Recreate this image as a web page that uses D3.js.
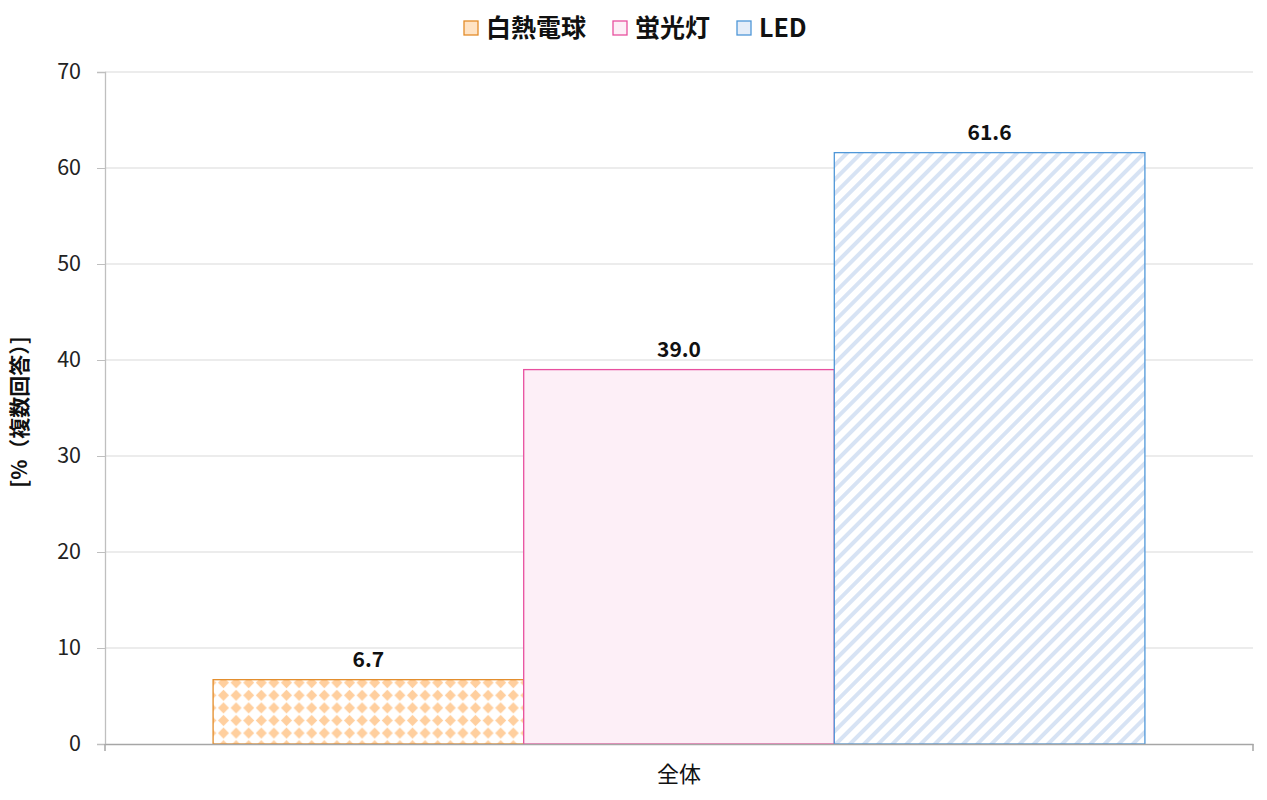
<!DOCTYPE html>
<html>
<head>
<meta charset="utf-8">
<script src="https://cdn.jsdelivr.net/npm/d3@7"></script>
<style>
  body { margin: 0; background: #fff; }
  text { font-family: "Noto Sans CJK JP", "Noto Sans", sans-serif; }
</style>
</head>
<body>
<div id="chart"></div>
<script>
// Data
var categories = ["全体"];
var seriesNames = ["白熱電球", "蛍光灯", "LED"];
var seriesValues = [6.7, 39.0, 61.6];
var yTicks = [0, 10, 20, 30, 40, 50, 60, 70];
var yTitle = "[%（複数回答）]";

var svgWidth = 1267;
var svgHeight = 800;

var margin = { top: 72, right: 14, bottom: 56, left: 105 };
var width = svgWidth - margin.left - margin.right;
var height = svgHeight - margin.top - margin.bottom;

var svg = d3.select("#chart")
  .append("svg")
  .attr("width", svgWidth)
  .attr("height", svgHeight);

// Patterns
var defs = svg.append("defs");

var pDiamond = defs.append("pattern")
  .attr("id", "pat-orange")
  .attr("patternUnits", "userSpaceOnUse")
  .attr("width", 12.6)
  .attr("height", 12.6)
  .attr("x", 213)
  .attr("y", 680);
pDiamond.append("rect").attr("width", 12.6).attr("height", 12.6).attr("fill", "#fff");
pDiamond.append("path")
  .attr("d", "M6.3,0.8 L11.8,6.3 L6.3,11.8 L0.8,6.3 Z")
  .attr("fill", "#FFCF9E");

var pStripe = defs.append("pattern")
  .attr("id", "pat-blue")
  .attr("patternUnits", "userSpaceOnUse")
  .attr("width", 10)
  .attr("height", 10)
  .attr("patternTransform", "rotate(45)");
pStripe.append("rect").attr("width", 10).attr("height", 10).attr("fill", "#fff");
pStripe.append("rect").attr("x", 0).attr("width", 4).attr("height", 10).attr("fill", "#D7E3F4");

var fills = ["url(#pat-orange)", "#FDEFF7", "url(#pat-blue)"];
var strokes = ["#E38D2A", "#E8509F", "#4F97D8"];

var chartGroup = svg.append("g")
  .attr("transform", `translate(${margin.left}, ${margin.top})`);

// Scales
var x0 = d3.scaleBand()
  .domain(categories)
  .range([0, width])
  .paddingInner(0)
  .paddingOuter(0);

var x1 = d3.scaleBand()
  .domain(seriesNames)
  .range([0, x0.bandwidth()])
  .paddingOuter(0.348);

var y = d3.scaleLinear()
  .domain([0, 70])
  .range([height, 0]);

// Gridlines
chartGroup.append("g")
  .selectAll("line")
  .data(yTicks.filter(d => d > 0))
  .enter()
  .append("line")
  .attr("x1", 0)
  .attr("x2", width)
  .attr("y1", d => y(d))
  .attr("y2", d => y(d))
  .attr("stroke", "#D9D9D9")
  .attr("stroke-width", 1);

// Y axis
var leftAxis = d3.axisLeft(y).tickValues(yTicks).tickSize(8).tickPadding(16);
var yAxis = chartGroup.append("g").call(leftAxis);
yAxis.select(".domain").attr("stroke", "#BFBFBF").attr("stroke-width", 1.3);
yAxis.selectAll(".tick line").attr("stroke", "#BFBFBF");
yAxis.selectAll(".tick text")
  .attr("font-family", "'Open Sans', 'Noto Sans', sans-serif")
  .attr("font-size", 21.5)
  .attr("fill", "#222");

// Bars
var catGroup = chartGroup.selectAll(".cat")
  .data(categories)
  .enter()
  .append("g")
  .attr("transform", d => `translate(${x0(d)},0)`);

catGroup.selectAll("rect")
  .data(seriesNames.map((s, i) => ({ name: s, value: seriesValues[i], i: i })))
  .enter()
  .append("rect")
  .attr("x", d => x1(d.name))
  .attr("y", d => y(d.value))
  .attr("width", x1.bandwidth())
  .attr("height", d => height - y(d.value))
  .attr("fill", d => fills[d.i])
  .attr("stroke", d => strokes[d.i])
  .attr("stroke-width", 1.3);

catGroup.selectAll(".lbl")
  .data(seriesNames.map((s, i) => ({ name: s, value: seriesValues[i] })))
  .enter()
  .append("text")
  .attr("x", d => x1(d.name) + x1.bandwidth() / 2)
  .attr("y", d => y(d.value) - 13)
  .attr("text-anchor", "middle")
  .attr("font-family", "'Open Sans', 'Noto Sans', sans-serif")
  .attr("font-weight", "bold")
  .attr("font-size", 21)
  .attr("fill", "#111")
  .text(d => d.value.toFixed(1));

// X axis
var bottomAxis = d3.axisBottom(x0).tickSize(0).tickPadding(22);
var xAxis = chartGroup.append("g")
  .attr("transform", `translate(0, ${height})`)
  .call(bottomAxis);
xAxis.select(".domain").attr("stroke", "#A6A6A6").attr("stroke-width", 1.5);
xAxis.selectAll(".tick text")
  .attr("font-family", "'Noto Sans CJK JP', sans-serif")
  .attr("font-size", 22)
  .attr("fill", "#111");
// category boundary ticks
xAxis.selectAll(".edge")
  .data([0, width])
  .enter()
  .append("line")
  .attr("x1", d => d)
  .attr("x2", d => d)
  .attr("y1", 0)
  .attr("y2", 7)
  .attr("stroke", "#A6A6A6")
  .attr("stroke-width", 1.5);

// Y axis title
svg.append("text")
  .attr("transform", "rotate(-90)")
  .attr("x", -412)
  .attr("y", 27)
  .attr("text-anchor", "middle")
  .attr("font-weight", "bold")
  .attr("font-size", 21)
  .attr("fill", "#111")
  .text(yTitle);

// Legend
var legendX = [464, 613, 737];
var legend = svg.append("g");
seriesNames.forEach((name, i) => {
  var g = legend.append("g").attr("transform", `translate(${legendX[i]}, 21)`);
  g.append("rect")
    .attr("width", 14)
    .attr("height", 14)
    .attr("fill", i === 1 ? fills[i] : (i === 0 ? "#FFE3C4" : "#E6EEF9"))
    .attr("stroke", strokes[i])
    .attr("stroke-width", 1.3);
  g.append("text")
    .attr("x", 22)
    .attr("y", 16)
    .attr("font-weight", "bold")
    .attr("font-size", 25)
    .attr("fill", "#111")
    .text(name);
});
</script>
</body>
</html>
